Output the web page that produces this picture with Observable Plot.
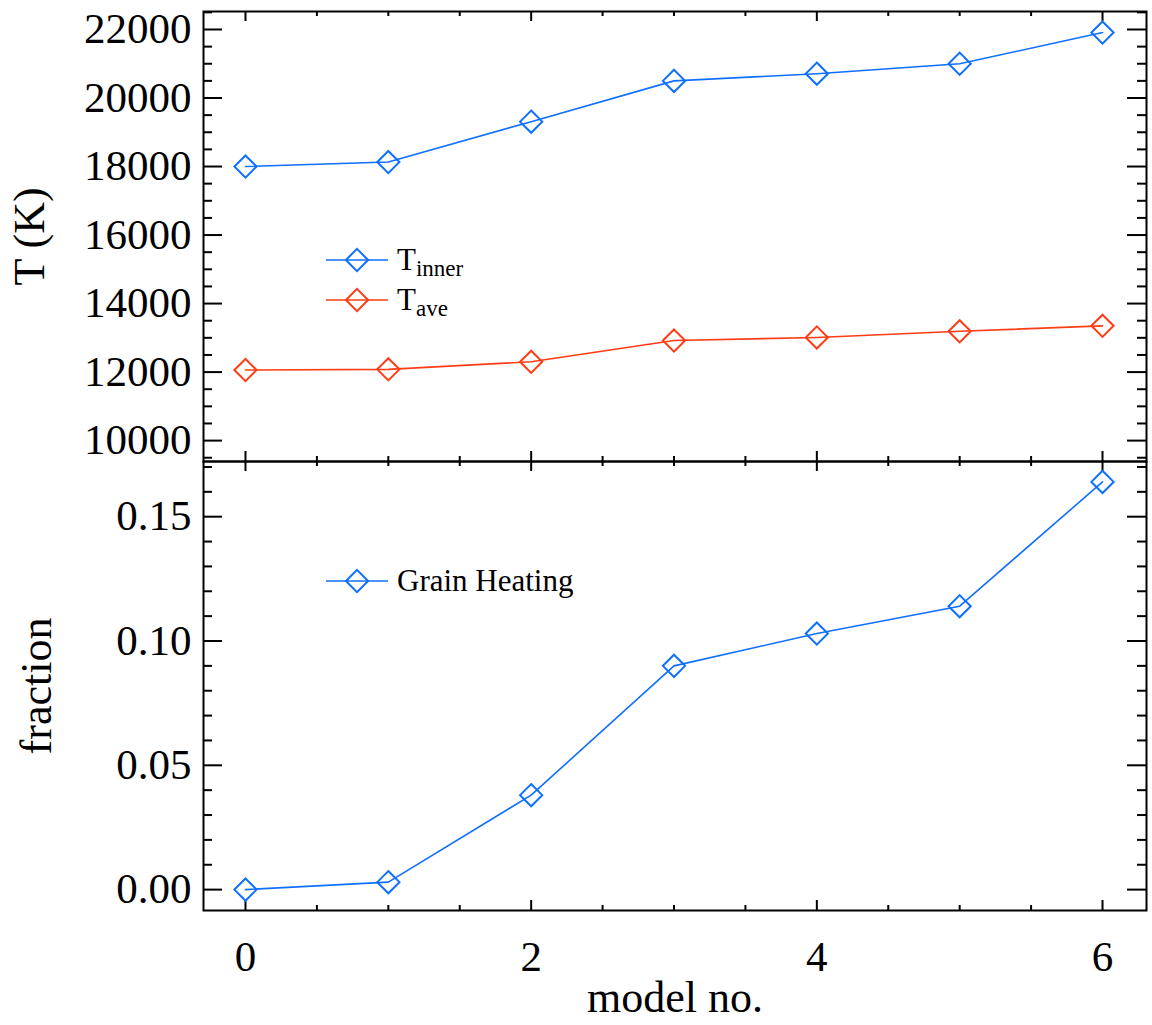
<!DOCTYPE html>
<html><head><meta charset="utf-8">
<script src="https://cdn.jsdelivr.net/npm/d3@7"></script>
<script src="https://cdn.jsdelivr.net/npm/@observablehq/plot@0.6"></script>
<style>
html,body{margin:0;padding:0;background:#fff;overflow:hidden;}
#wrap{position:relative;width:1152px;height:1025px;font-family:"Liberation Serif","Times New Roman",serif;}
#wrap > svg{position:absolute;left:0;overflow:visible;max-width:none;}
</style></head><body><div id="wrap"></div>
<script>
// ---- data ----
const models = [0, 1, 2, 3, 4, 5, 6];
const tInner = [18000, 18130, 19310, 20500, 20710, 21000, 21910];
const tAve = [12060, 12080, 12300, 12920, 13010, 13190, 13350];
const grainHeating = [0.000, 0.003, 0.038, 0.090, 0.103, 0.114, 0.164];
const xTickLabels = [0, 2, 4, 6];
const tTickLabels = [10000, 12000, 14000, 16000, 18000, 20000, 22000];
const fracTickLabels = [0.00, 0.05, 0.10, 0.15];
const topSeriesNames = [["T", "inner"], ["T", "ave"]];
const bottomSeriesNames = ["Grain Heating"];
const xTitle = "model no.";
const topYTitle = "T (K)";
const bottomYTitle = "fraction";

// ---- styling ----
const BLUE = "#0f6fff", RED = "#ff3c14";
const FONT = "Liberation Serif, Times New Roman, serif";
const W = 1152, ML = 203, MR = 6;
const FW = W - ML - MR;          // frame width
const xDomain = [-0.294, 6.308];
const topDomain = [9390, 22525];
const botDomain = [-0.0084, 0.1722];

const rows = models.map((m, i) => ({model: m, tInner: tInner[i], tAve: tAve[i], grain: grainHeating[i]}));

const xMinor = d3.range(0, 6.01, 0.5).filter(v => !xTickLabels.includes(v) && v >= xDomain[0] && v <= xDomain[1]);
const tMinor = d3.range(9500, 22600, 500).filter(v => v % 2000 !== 0 && v >= topDomain[0] && v <= topDomain[1]);
const fMinor = d3.range(0, 18).map(i => i / 100).filter(v => (Math.round(v * 100) % 5) !== 0 && v <= botDomain[1]);

function frameTicks(FH, yMaj, yMin) {
  const st = {stroke: "black", strokeWidth: 2};
  const XL = 10, xl = 5, YL = 19, yl = 9;
  return [
    Plot.ruleX(xTickLabels, {...st, insetBottom: FH - XL}),
    Plot.ruleX(xTickLabels, {...st, insetTop: FH - XL}),
    Plot.ruleX(xMinor, {...st, insetBottom: FH - xl}),
    Plot.ruleX(xMinor, {...st, insetTop: FH - xl}),
    Plot.ruleY(yMaj, {...st, insetRight: FW - YL}),
    Plot.ruleY(yMaj, {...st, insetLeft: FW - YL}),
    Plot.ruleY(yMin, {...st, insetRight: FW - yl}),
    Plot.ruleY(yMin, {...st, insetLeft: FW - yl}),
    Plot.frame({stroke: "black", strokeWidth: 2})
  ];
}

function series(key, color) {
  return [
    Plot.line(rows, {x: "model", y: key, stroke: color, strokeWidth: 1.6}),
    Plot.dot(rows, {x: "model", y: key, symbol: "diamond2", r: 10, stroke: color, strokeWidth: 2, fill: "none"})
  ];
}

const wrap = document.getElementById("wrap");

// top panel: frame y 11..461
const topH = 462, topFH = 450;
const topPlot = Plot.plot({
  width: W, height: topH,
  marginLeft: ML, marginRight: MR, marginTop: 11, marginBottom: 1,
  style: {background: "transparent", fontFamily: FONT, fontSize: "43px", overflow: "visible"},
  x: {domain: xDomain, axis: null},
  y: {domain: topDomain, axis: null},
  marks: [
    ...frameTicks(topFH, tTickLabels, tMinor),
    Plot.axisY({ticks: tTickLabels, tickSize: 0, tickPadding: 12, tickFormat: d => String(d), fontSize: 43, label: null, fill: "black"}),
    Plot.text([topYTitle], {text: d => d, frameAnchor: "left", rotate: -90, dx: -174, lineAnchor: "middle", textAnchor: "middle", fontSize: 44, fill: "black"}),
    ...series("tInner", BLUE),
    ...series("tAve", RED)
  ]
});
topPlot.style.top = "0px";
wrap.appendChild(topPlot);

// bottom panel: frame y 461..910
const botTop = 450, botH = 575, botFH = 449;
const botPlot = Plot.plot({
  width: W, height: botH,
  marginLeft: ML, marginRight: MR, marginTop: 11, marginBottom: botH - 11 - botFH,
  style: {background: "transparent", fontFamily: FONT, fontSize: "43px", overflow: "visible"},
  x: {domain: xDomain, axis: null},
  y: {domain: botDomain, axis: null},
  marks: [
    ...frameTicks(botFH, fracTickLabels, fMinor),
    Plot.axisY({ticks: fracTickLabels, tickSize: 0, tickPadding: 12, tickFormat: d3.format(".2f"), fontSize: 43, label: null, fill: "black"}),
    Plot.axisX({ticks: xTickLabels, tickSize: 0, tickPadding: 30, tickFormat: d => String(d), fontSize: 43, label: null, fill: "black"}),
    Plot.text([bottomYTitle], {text: d => d, frameAnchor: "left", rotate: -90, dx: -167, lineAnchor: "middle", textAnchor: "middle", fontSize: 44, fill: "black"}),
    Plot.text([xTitle], {text: d => d, frameAnchor: "bottom", dy: 87, lineAnchor: "middle", textAnchor: "middle", fontSize: 44, fill: "black"}),
    ...series("grain", BLUE)
  ]
});
botPlot.style.top = botTop + "px";
wrap.appendChild(botPlot);

// ---- legends (overlay) ----
const leg = d3.select(wrap).append("svg")
  .attr("width", W).attr("height", 1025)
  .style("position", "absolute").style("left", "0px").style("top", "0px")
  .style("font-family", FONT);

function legendRow(y, color, labelFn) {
  const g = leg.append("g").attr("transform", `translate(0,${y})`);
  g.append("line").attr("x1", 326).attr("x2", 388).attr("y1", 0).attr("y2", 0)
    .attr("stroke", color).attr("stroke-width", 1.6);
  g.append("path").attr("d", d3.symbol(d3.symbolDiamond2, 10 * 10 * Math.PI)())
    .attr("transform", "translate(357,0)").attr("fill", "none").attr("stroke", color).attr("stroke-width", 2);
  const t = g.append("text").attr("x", 397).attr("y", 10).attr("font-size", 31).attr("fill", "black");
  labelFn(t);
}
legendRow(260, BLUE, t => { t.append("tspan").text(topSeriesNames[0][0]); t.append("tspan").attr("dy", 6).attr("font-size", 23).text(topSeriesNames[0][1]); });
legendRow(300, RED, t => { t.append("tspan").text(topSeriesNames[1][0]); t.append("tspan").attr("dy", 6).attr("font-size", 23).text(topSeriesNames[1][1]); });
legendRow(581, BLUE, t => { t.text(bottomSeriesNames[0]); });
</script>
</body></html>
